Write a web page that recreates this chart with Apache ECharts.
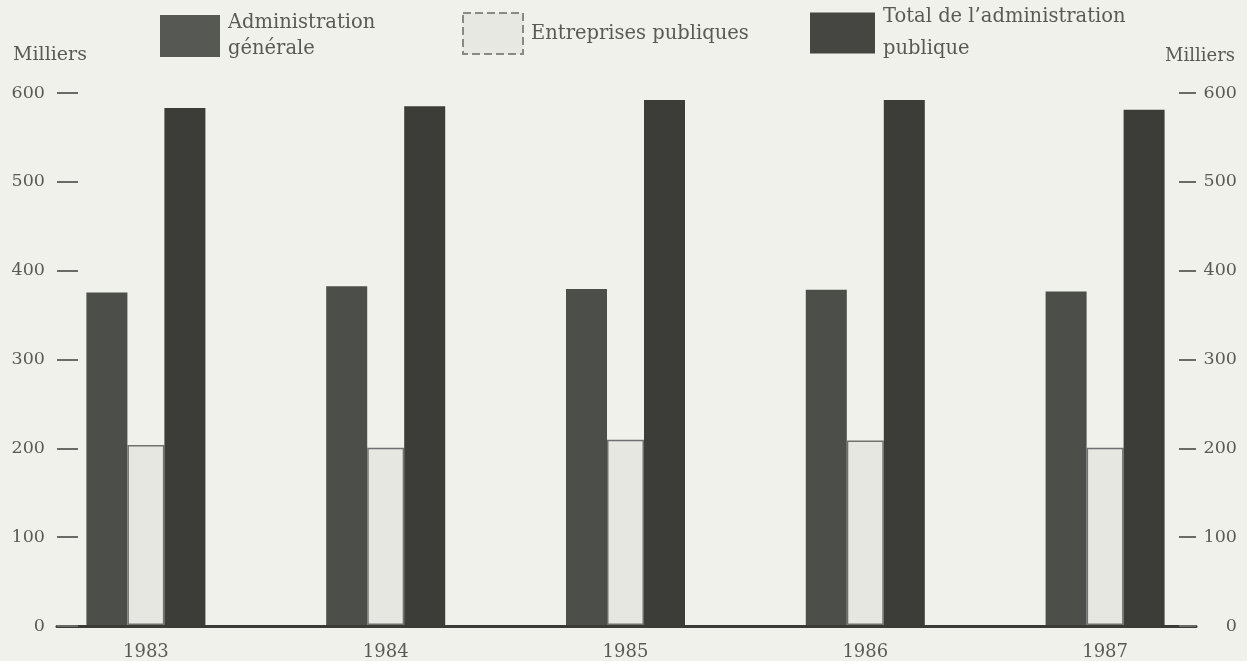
<!DOCTYPE html>
<html>
<head>
<meta charset="utf-8">
<script src="https://cdn.jsdelivr.net/npm/echarts@6/dist/echarts.min.js"></script>
<style>
  html, body { margin: 0; padding: 0; background: #f1f1eb; }
  #chart { width: 1247px; height: 661px; }
</style>
</head>
<body>
<div id="chart"></div>
<script>
// Effectifs (milliers) by year
const years = ['1983', '1984', '1985', '1986', '1987'];
const adminGenerale = [375, 382, 379, 378, 376];
const entreprisesPubliques = [203, 200, 209, 208, 200];
const totalAdministration = [583, 585, 592, 592, 581];
const yTicks = { min: 0, max: 600, step: 100 };

const seriesNames = ['Administration\ngénérale', 'Entreprises publiques', 'Total de l’administration\npublique'];

const FONT = 'DejaVu Serif';
const TEXT = '#5a5a55';
const DARK_ADMIN = '#4c4e49';
const DARK_TOTAL = '#3c3d39';
const LIGHT = '#e6e7e1';

const chart = echarts.init(document.getElementById('chart'));

const legendBase = {
  orient: 'horizontal',
  icon: 'rect',
  itemGap: 0,
  padding: 0,
  selectedMode: false,
  textStyle: { fontFamily: FONT, fontSize: 19.5, color: TEXT, padding: [0, 0, 0, 3] }
};

chart.setOption({
  backgroundColor: '#f1f1eb',
  animation: false,
  textStyle: { fontFamily: FONT },
  legend: [
    Object.assign({}, legendBase, {
      left: 160, top: 10, itemWidth: 60, itemHeight: 42,
      data: [{ name: seriesNames[0], itemStyle: { color: '#565853' } }],
      textStyle: Object.assign({}, legendBase.textStyle, { lineHeight: 26 })
    }),
    Object.assign({}, legendBase, {
      left: 462, top: 12, itemWidth: 60, itemHeight: 41,
      data: [{ name: seriesNames[1], itemStyle: { color: '#e8e8e2', borderColor: '#8a8a85', borderWidth: 2, borderType: 'dashed' } }]
    }),
    Object.assign({}, legendBase, {
      left: 810, top: 1, itemWidth: 65, itemHeight: 41,
      data: [{ name: seriesNames[2], itemStyle: { color: '#454642' } }],
      textStyle: Object.assign({}, legendBase.textStyle, { lineHeight: 32 })
    })
  ],
  grid: [
    { left: 26, right: 22, top: 93, bottom: 35 },   // bars
    { left: 57, right: 51, top: 93, bottom: 35 }    // framing axes
  ],
  xAxis: [
    {
      type: 'category', gridIndex: 0, data: years,
      axisLine: { show: false }, axisTick: { show: false },
      axisLabel: { fontFamily: FONT, fontSize: 18, color: TEXT, margin: 18 }
    },
    {
      type: 'value', gridIndex: 1, min: 0, max: 1,
      axisLine: { show: true, lineStyle: { color: '#3a3a36', width: 3 } },
      axisTick: { show: false }, axisLabel: { show: false }, splitLine: { show: false }
    }
  ],
  yAxis: [
    {
      type: 'value', gridIndex: 0, min: yTicks.min, max: yTicks.max, interval: yTicks.step,
      show: false
    },
    {
      type: 'value', gridIndex: 1, position: 'left',
      min: yTicks.min, max: yTicks.max, interval: yTicks.step,
      name: 'Milliers', nameLocation: 'end', nameGap: 28,
      nameTextStyle: { fontFamily: FONT, fontSize: 19, color: TEXT, align: 'center', padding: [0, 14, 0, 0] },
      axisLine: { show: false },
      axisTick: { show: true, inside: true, length: 21, lineStyle: { color: '#6a6a66', width: 2 } },
      axisLabel: { fontFamily: FONT, fontSize: 17.5, color: TEXT, margin: 12 },
      splitLine: { show: false }
    },
    {
      type: 'value', gridIndex: 1, position: 'right',
      min: yTicks.min, max: yTicks.max, interval: yTicks.step,
      name: 'Milliers', nameLocation: 'end', nameGap: 28,
      nameTextStyle: { fontFamily: FONT, fontSize: 18, color: TEXT, align: 'center', padding: [0, 0, 0, 8] },
      axisLine: { show: false },
      axisTick: { show: true, inside: true, length: 17, lineStyle: { color: '#6a6a66', width: 2 } },
      axisLabel: { fontFamily: FONT, fontSize: 17.5, color: TEXT, margin: 41, align: 'right' },
      splitLine: { show: false }
    }
  ],
  series: [
    {
      name: seriesNames[0], type: 'bar', xAxisIndex: 0, yAxisIndex: 0,
      data: adminGenerale, barWidth: 41, barGap: '0%',
      itemStyle: { color: DARK_ADMIN }
    },
    {
      name: seriesNames[1], type: 'bar', xAxisIndex: 0, yAxisIndex: 0,
      data: entreprisesPubliques, barWidth: 37, barGap: '0%',
      itemStyle: { color: LIGHT, borderColor: '#707070', borderWidth: 1.5 }
    },
    {
      name: seriesNames[2], type: 'bar', xAxisIndex: 0, yAxisIndex: 0,
      data: totalAdministration, barWidth: 41, barGap: '0%',
      itemStyle: { color: DARK_TOTAL }
    }
  ]
});
</script>
</body>
</html>
